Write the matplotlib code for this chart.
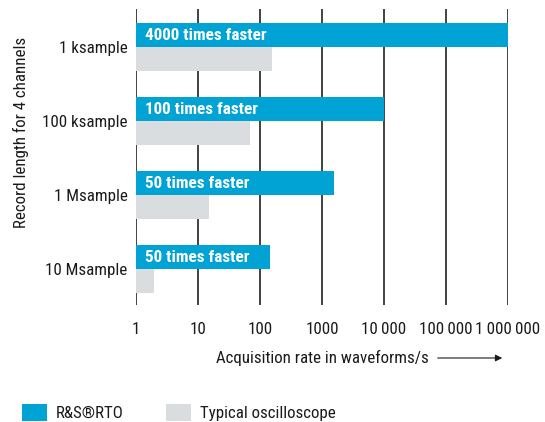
import numpy as np
import matplotlib
matplotlib.use("Agg")
from matplotlib import pyplot as plt

plt.rcParams['font.family'] = ['Roboto Condensed', 'DejaVu Sans']

# record lengths (top to bottom)
kategoriler = ["1 ksample", "100 ksample", "1 Msample", "10 Msample"]
# acquisition rate in waveforms/s
rto = [1000000, 10000, 1550, 145]
tipik = [158, 70, 15, 1.95]
etiketler = ["4000 times faster", "100 times faster", "50 times faster", "50 times faster"]

xticks = [1, 10, 100, 1000, 10000, 100000, 1000000]
xtick_labels = ["1", "10", "100", "1000", "10\u2009000", "100\u2009000", "1\u2009000\u2009000"]

mavi = "#00a3d4"
gri = "#d9dde0"
yazi = "#1a1a1a"
fs = 12.2

fig = plt.figure(figsize=(5.45, 4.22), dpi=100)
ax = fig.add_axes([136/545, 1-305/422, (508-136)/545, (305-9)/422])

y = np.arange(len(kategoriler))
h = 24/74

b1 = ax.barh(y - h/2, np.array(rto) - 1, height=h, left=1, color=mavi, zorder=3,
             label="R&S\u00aeRTO")
b2 = ax.barh(y + h/2, np.array(tipik) - 1, height=h, left=1, color=gri, zorder=3,
             label="Typical oscilloscope")

for i, t in enumerate(etiketler):
    ax.text(1.4, y[i] - h/2, t, color="white", fontweight="bold", fontsize=12.3,
            va="center", ha="left", zorder=4)

ax.set_xscale("log")
ax.set_xlim(1, 1000000)
ax.set_ylim(3 + 36/74, -38/74)
ax.set_xticks(xticks)
ax.set_xticklabels(xtick_labels, fontsize=fs, color=yazi)
ax.minorticks_off()
ax.set_yticks(y)
ax.set_yticklabels(kategoriler, fontsize=fs, color=yazi)
ax.tick_params(axis="both", length=0)
ax.tick_params(axis="x", pad=12)
ax.tick_params(axis="y", pad=6)
for s in ax.spines.values():
    s.set_visible(False)
ax.grid(axis="x", color="#333333", linewidth=1.3, zorder=0)
ax.set_axisbelow(True)

fig.text(21/545, 1-132/422, "Record length for 4 channels", rotation=90,
         ha="center", va="center", fontsize=fs, color=yazi)
fig.text(216/545, 1-358/422, "Acquisition rate in waveforms/s", ha="left", va="center",
         fontsize=fs, color=yazi)
ax.annotate("", xy=(505/545, 1-358/422), xytext=(435/545, 1-358/422),
            xycoords="figure fraction", textcoords="figure fraction",
            arrowprops=dict(arrowstyle="-|>", color=yazi, lw=0.8,
                            mutation_scale=10))

fig.legend(handles=[b1, b2], loc="lower left", bbox_to_anchor=(22/545, 1/422),
           ncol=2, frameon=False, fontsize=fs, handlelength=1.45,
           handleheight=1.2, handletextpad=0.55, columnspacing=2.5,
           borderaxespad=0, borderpad=0, labelcolor=yazi)

plt.savefig("out.png", dpi=100)
